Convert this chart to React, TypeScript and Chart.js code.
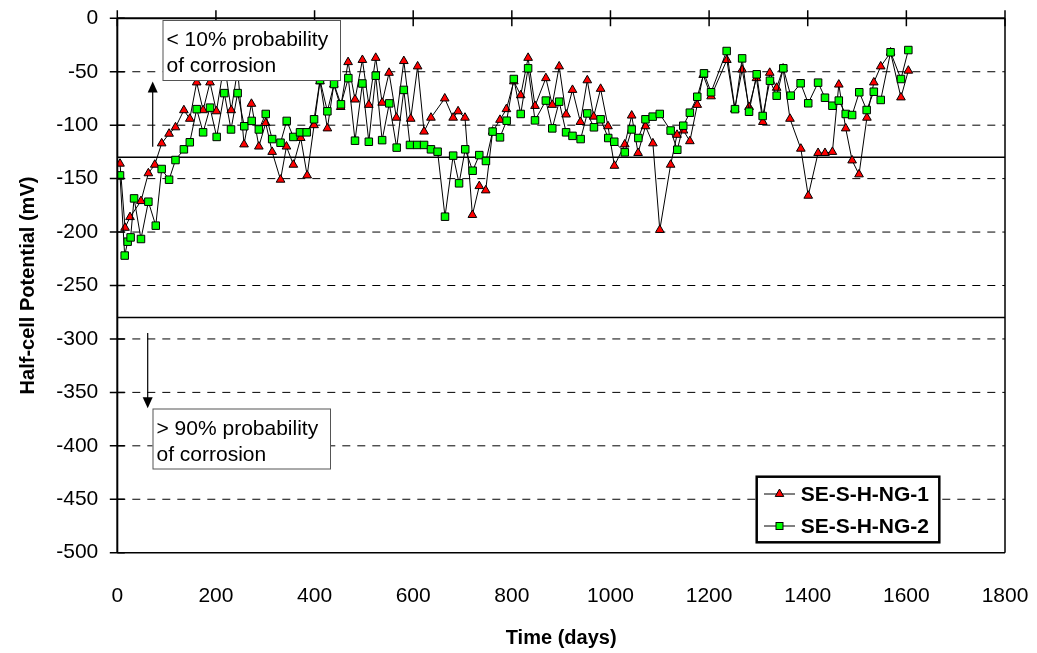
import React, { useEffect, useRef } from "react";
import { Chart, registerables } from "chart.js";

Chart.register(...registerables);

// ---- Data ----
const days1 = [5.5, 15.7, 25.8, 48, 63, 76, 90, 105, 118, 135, 147, 161, 174, 188, 201, 217, 231, 244, 257, 272, 287, 301, 314, 331, 343, 357, 372, 385, 399, 411, 426, 439, 453, 468, 482, 497, 510, 524, 537, 551, 566, 581, 595, 609, 622, 636, 664, 681, 691, 705, 720, 734, 747, 761, 776, 789, 804, 818, 833, 847, 869, 882, 896, 910, 923, 939, 953, 966, 980, 995, 1008, 1029, 1043, 1056, 1071, 1086, 1100, 1122, 1135, 1148, 1161, 1176, 1188, 1204, 1236, 1252, 1267, 1281, 1296, 1309, 1323, 1337, 1350, 1364, 1386, 1401, 1421, 1435, 1450, 1463, 1477, 1490, 1504, 1520, 1534, 1548, 1568, 1589, 1604];
const potential1 = [-136, -196, -186, -171, -145, -137, -117, -108, -102, -86, -94, -60, -86, -60, -87, -42, -86, -48, -118, -80, -120, -98, -125, -151, -120, -137, -112, -147, -100, -59, -103, -62, -83, -41, -76, -39, -81, -37, -79, -51, -93, -40, -94, -45, -106, -93, -75, -93, -87, -93, -184, -157, -161, -106, -95, -85, -59, -72, -37, -82, -56, -81, -45, -90, -67, -97, -58, -92, -66, -101, -138, -118, -91, -126, -101, -117, -198, -137, -109, -105, -115, -81, -53, -73, -39, -85, -48, -83, -56, -97, -51, -65, -47, -94, -122, -166, -126, -126, -125, -62, -103, -133, -146, -93, -60, -45, -32, -74, -49];

const days2 = [5.5, 15, 21, 27, 34, 48, 63, 78, 90, 105, 118, 135, 147, 161, 174, 188, 201.5, 217, 230.6, 244, 257.5, 272.5, 287, 301, 314, 331, 343.5, 357, 370.5, 384, 399, 411, 426, 439.5, 453.5, 468.5, 482, 497, 510, 524, 537, 551.5, 566.5, 581, 593.5, 608, 622, 636, 649.5, 664.5, 681, 693, 705.5, 720.5, 734, 747.5, 761, 776, 789.5, 804, 818, 833, 847, 869, 882, 896, 910, 923, 939.5, 953, 966.5, 980, 995.5, 1007.7, 1029, 1043, 1056.5, 1071, 1085.6, 1100, 1122, 1135.5, 1147.6, 1161, 1176, 1189.6, 1204, 1235.6, 1252.5, 1267, 1281, 1296.5, 1308.6, 1323.4, 1337, 1350.5, 1365.5, 1385.6, 1401, 1421, 1435, 1450, 1463, 1477, 1490, 1504.5, 1519.5, 1534, 1548, 1568, 1589, 1604];
const potential2 = [-147, -222, -209, -205, -168.5, -206.5, -171.6, -194, -141, -151, -132.6, -122.6, -116, -85, -106.7, -83.6, -111, -70, -104, -70, -101, -96, -104, -89.5, -113, -116.4, -96, -111, -106.7, -106.7, -94.5, -57.7, -87, -61.5, -80.5, -56, -114.5, -61, -115.5, -53.7, -114, -79.6, -121, -67, -118.5, -118.5, -118.5, -122.6, -124.8, -185.6, -128.5, -154.4, -122.6, -142.6, -128, -133.5, -106, -111.4, -95.8, -56.8, -89.5, -46.8, -95.5, -77, -103, -78, -106.7, -110, -113, -89, -102, -94.5, -112, -115.5, -125.4, -104, -112, -94.5, -92, -89.5, -105, -123, -100.5, -88.3, -73.4, -51.5, -69.2, -30.6, -85, -37.5, -87.4, -52.4, -91.4, -58.4, -72.4, -46.8, -72.4, -60.8, -79.5, -60.2, -74.3, -81.8, -77, -89.5, -90.5, -69.2, -85.8, -68.7, -76.4, -31.8, -56.8, -29.7];

const seriesNames = ["SE-S-H-NG-1", "SE-S-H-NG-2"];
const xTickValues = [0, 200, 400, 600, 800, 1000, 1200, 1400, 1600, 1800];
const yTickValues = [0, -50, -100, -150, -200, -250, -300, -350, -400, -450, -500];
const thresholdLines = [-130, -280];
const upperNote = ["< 10% probability", "of corrosion"];
const lowerNote = ["> 90% probability", "of corrosion"];
const xTitle = "Time (days)";
const yTitle = "Half-cell Potential (mV)";

const FONT = "'Liberation Sans', Arial, sans-serif";

function drawTriangle(ctx: CanvasRenderingContext2D, x: number, y: number, r: number) {
  ctx.beginPath();
  ctx.moveTo(x, y - r);
  ctx.lineTo(x + r * 0.95, y + r * 0.65);
  ctx.lineTo(x - r * 0.95, y + r * 0.65);
  ctx.closePath();
  ctx.fillStyle = "#ff0000";
  ctx.fill();
  ctx.strokeStyle = "#000";
  ctx.lineWidth = 1;
  ctx.stroke();
}

function drawSquare(ctx: CanvasRenderingContext2D, x: number, y: number, s: number) {
  ctx.fillStyle = "#00ff00";
  ctx.fillRect(x - s / 2, y - s / 2, s, s);
  ctx.strokeStyle = "#000";
  ctx.lineWidth = 1;
  ctx.strokeRect(x - s / 2, y - s / 2, s, s);
}

const decorPlugin = {
  id: "decor",
  beforeDatasetsDraw(chart: any) {
    const ctx: CanvasRenderingContext2D = chart.ctx;
    const { left, right } = chart.chartArea;
    const ys = chart.scales.y;
    ctx.save();
    ctx.strokeStyle = "#000";
    ctx.lineWidth = 1;
    ctx.setLineDash([8, 7]);
    for (const v of yTickValues) {
      if (v === 0 || v === -500) continue;
      const py = ys.getPixelForValue(v);
      ctx.beginPath();
      ctx.moveTo(left, py);
      ctx.lineTo(right, py);
      ctx.stroke();
    }
    ctx.setLineDash([]);
    ctx.lineWidth = 1.5;
    for (const v of thresholdLines) {
      const py = ys.getPixelForValue(v);
      ctx.beginPath();
      ctx.moveTo(left, py);
      ctx.lineTo(right, py);
      ctx.stroke();
    }
    ctx.restore();
  },
  afterDatasetsDraw(chart: any) {
    const ctx: CanvasRenderingContext2D = chart.ctx;
    const { left, right, top, bottom } = chart.chartArea;
    const xs = chart.scales.x;
    const ys = chart.scales.y;
    ctx.save();

    // frame
    ctx.strokeStyle = "#000";
    ctx.lineWidth = 1.5;
    ctx.beginPath();
    ctx.moveTo(right, top);
    ctx.lineTo(right, bottom);
    ctx.moveTo(left, bottom);
    ctx.lineTo(right, bottom);
    ctx.stroke();
    ctx.lineWidth = 2;
    ctx.beginPath();
    ctx.moveTo(left, top);
    ctx.lineTo(right, top);
    ctx.moveTo(left, top);
    ctx.lineTo(left, bottom);
    ctx.stroke();

    // tick marks
    ctx.lineWidth = 1.5;
    ctx.beginPath();
    for (const v of yTickValues) {
      const py = ys.getPixelForValue(v);
      ctx.moveTo(left - 7.5, py);
      ctx.lineTo(left + 7.5, py);
    }
    for (const v of xTickValues) {
      const px = xs.getPixelForValue(v);
      ctx.moveTo(px, top - 8);
      ctx.lineTo(px, top + 8);
    }
    ctx.stroke();

    // note boxes
    const drawNote = (lines: string[], x0: number, y0: number, w: number, h: number) => {
      ctx.fillStyle = "#fff";
      ctx.fillRect(x0, y0, w, h);
      ctx.strokeStyle = "#555";
      ctx.lineWidth = 1;
      ctx.strokeRect(x0 + 0.5, y0 + 0.5, w, h);
      ctx.fillStyle = "#000";
      ctx.font = `21px ${FONT}`;
      ctx.textAlign = "left";
      ctx.textBaseline = "middle";
      ctx.fillText(lines[0], x0 + 4, y0 + 20.5);
      ctx.fillText(lines[1], x0 + 4, y0 + 46.5);
    };
    drawNote(upperNote, 162.5, 20, 177.5, 60);
    drawNote(lowerNote, 152.5, 408.5, 177.5, 60);

    // arrows
    const arrow = (x: number, y1: number, y2: number) => {
      const dir = y2 > y1 ? 1 : -1;
      ctx.strokeStyle = "#000";
      ctx.fillStyle = "#000";
      ctx.lineWidth = 1.2;
      ctx.beginPath();
      ctx.moveTo(x, y1);
      ctx.lineTo(x, y2 - dir * 10);
      ctx.stroke();
      ctx.beginPath();
      ctx.moveTo(x, y2);
      ctx.lineTo(x - 5, y2 - dir * 11);
      ctx.lineTo(x + 5, y2 - dir * 11);
      ctx.closePath();
      ctx.fill();
    };
    arrow(152.7, 146.7, 81.5);
    arrow(147.7, 333, 408.3);

    // legend
    const lx = 756.7, ly = 476.7, lw = 182.6, lh = 65.6;
    ctx.fillStyle = "#fff";
    ctx.fillRect(lx, ly, lw, lh);
    ctx.strokeStyle = "#000";
    ctx.lineWidth = 2.5;
    ctx.strokeRect(lx, ly, lw, lh);
    const rows = [494, 526];
    for (let i = 0; i < 2; i++) {
      const ry = rows[i];
      ctx.strokeStyle = "#000";
      ctx.lineWidth = 1;
      ctx.beginPath();
      ctx.moveTo(764, ry);
      ctx.lineTo(795, ry);
      ctx.stroke();
      if (i === 0) drawTriangle(ctx, 779.5, ry - 0.5, 4.5);
      else drawSquare(ctx, 779.5, ry, 7);
      ctx.fillStyle = "#000";
      ctx.font = `bold 21px ${FONT}`;
      ctx.textAlign = "left";
      ctx.textBaseline = "middle";
      ctx.fillText(seriesNames[i], 800.7, ry + 1);
    }

    // axis titles
    ctx.fillStyle = "#000";
    ctx.font = `bold 20px ${FONT}`;
    ctx.textAlign = "center";
    ctx.textBaseline = "middle";
    ctx.fillText(xTitle, (left + right) / 2, 638);
    ctx.save();
    ctx.translate(28, (top + bottom) / 2);
    ctx.rotate(-Math.PI / 2);
    ctx.fillText(yTitle, 0, 0);
    ctx.restore();

    ctx.restore();
  },
};

export default function App() {
  const canvasRef = useRef<HTMLCanvasElement | null>(null);

  useEffect(() => {
    const canvas = canvasRef.current;
    if (!canvas) return;
    const tickFont = { family: FONT, size: 21 };
    const chart = new Chart(canvas, {
      type: "line",
      data: {
        datasets: [
          {
            label: seriesNames[0],
            data: days1.map((d, i) => ({ x: d, y: potential1[i] })),
            borderColor: "#000",
            borderWidth: 1,
            pointStyle: "triangle",
            pointRadius: 5,
            pointBackgroundColor: "#ff0000",
            pointBorderColor: "#000",
            pointBorderWidth: 1,
            tension: 0,
            order: 2,
          },
          {
            label: seriesNames[1],
            data: days2.map((d, i) => ({ x: d, y: potential2[i] })),
            borderColor: "#000",
            borderWidth: 1,
            pointStyle: "rect",
            pointRadius: 5.3,
            pointBackgroundColor: "#00ff00",
            pointBorderColor: "#000",
            pointBorderWidth: 1,
            tension: 0,
            order: 1,
          },
        ],
      },
      options: {
        responsive: false,
        animation: false,
        layout: { padding: { left: 0, right: 32, top: 18.3, bottom: 0 } },
        scales: {
          x: {
            type: "linear",
            min: 0,
            max: 1800,
            afterBuildTicks: (s: any) => {
              s.ticks = xTickValues.map((v) => ({ value: v }));
            },
            afterFit: (s: any) => {
              s.height = 100.3;
              s.paddingLeft = 0;
              s.paddingRight = 0;
            },
            ticks: {
              font: tickFont,
              color: "#000",
              padding: 31,
              maxRotation: 0,
              autoSkip: false,
              callback: (v: any) => String(v),
            },
            grid: { display: false, drawTicks: false },
            border: { display: false },
          },
          y: {
            type: "linear",
            min: -500,
            max: 0,
            afterBuildTicks: (s: any) => {
              s.ticks = yTickValues.map((v) => ({ value: v }));
            },
            afterFit: (s: any) => {
              s.width = 117.3;
              s.paddingTop = 0;
              s.paddingBottom = 0;
            },
            ticks: { font: tickFont, color: "#000", padding: 19, autoSkip: false, callback: (v: any) => String(v) },
            grid: { display: false, drawTicks: false },
            border: { display: false },
          },
        },
        plugins: {
          legend: { display: false },
          tooltip: { enabled: false },
        },
      },
      plugins: [decorPlugin],
    });
    return () => chart.destroy();
  }, []);

  return (
    <div style={{ position: "absolute", left: 0, top: 0, width: 1037, height: 653, background: "#fff" }}>
      <canvas ref={canvasRef} width={1037} height={653} style={{ display: "block", width: 1037, height: 653 }} />
    </div>
  );
}
